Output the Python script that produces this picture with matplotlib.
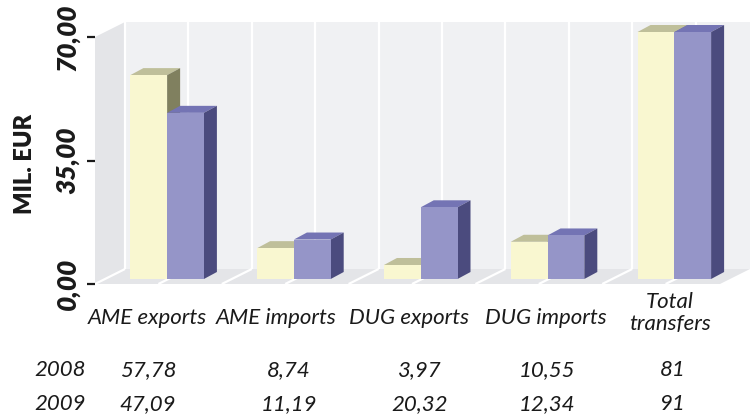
import numpy as np
import matplotlib
matplotlib.use('Agg')
import matplotlib.pyplot as plt
from matplotlib.patches import Polygon

# data
categories = ['AME exports', 'AME imports', 'DUG exports', 'DUG imports', 'Total\ntransfers']
years = ['2008', '2009']
values_2008 = [57.78, 8.74, 3.97, 10.55, 81]
values_2009 = [47.09, 11.19, 20.32, 12.34, 91]
y_ticks = [0, 35, 70]
y_tick_labels = ['0,00', '35,00', '70,00']
y_max = 70

plt.rcParams['font.family'] = ['Lato', 'DejaVu Sans']

W, H = 750, 419
px_x = 126.8            # pixels per category unit
px_y = 247 / y_max      # pixels per value unit

fig = plt.figure(figsize=(W / 100, H / 100), dpi=100)
ax = fig.add_axes([95 / W, 1 - 284 / H, 655 / W, 247 / H])
ax.set_xlim(0, 655 / px_x)
ax.set_ylim(0, y_max)

# depth of the "3d" box
DX = 30 / px_x
DY = 15 / px_y
XR = 625 / px_x   # right front edge of the floor

wall_back = '#f0f1f3'
wall_side = '#e4e5e8'
floor_col = '#e4e5e8'

ax.add_patch(Polygon([(DX, DY), (XR + DX, DY), (XR + DX, y_max + DY), (DX, y_max + DY)],
                     closed=True, fc=wall_back, ec='none', zorder=0, clip_on=False))
ax.add_patch(Polygon([(0, 0), (DX, DY), (DX, y_max + DY), (0, y_max)],
                     closed=True, fc=wall_side, ec='none', zorder=0, clip_on=False))
ax.add_patch(Polygon([(0, 0), (XR, 0), (XR + DX, DY), (DX, DY)],
                     closed=True, fc=floor_col, ec='none', zorder=0, clip_on=False))

# white grid lines on back wall and floor
for gx in np.arange(0, XR, 0.5):
    ax.plot([gx + DX, gx + DX], [DY, y_max + DY], color='white', lw=1.6, zorder=1,
            clip_on=False, solid_capstyle='butt')
    ax.plot([gx, gx + DX], [0, DY], color='white', lw=1.6, zorder=1, clip_on=False,
            solid_capstyle='butt')

# bars
pos = np.arange(len(categories)) + 0.49
bw = 0.29
fx, fy = DX / 3, DY / 3          # bars stand a third into the floor
bdx, bdy = 13 / px_x, 7 / px_y   # bar depth

styles = [('#f9f7d0', '#bfbf9a', '#80805f'),
          ('#9595c8', '#7474b4', '#4b4b7e')]

for k, vals in enumerate([values_2008, values_2009]):
    front, top, side = styles[k]
    h = np.minimum(vals, y_max)
    left = pos - bw + k * bw + fx
    ax.bar(left, h, width=bw, bottom=fy, align='edge', color=front,
           zorder=3 + 2 * k, clip_on=False, linewidth=0)
    for x0, hh in zip(left, h):
        yt = fy + hh
        ax.add_patch(Polygon([(x0, yt), (x0 + bw, yt), (x0 + bw + bdx, yt + bdy), (x0 + bdx, yt + bdy)],
                             closed=True, fc=top, ec='none', zorder=2 + 2 * k, clip_on=False))
        ax.add_patch(Polygon([(x0 + bw, fy), (x0 + bw + bdx, fy + bdy), (x0 + bw + bdx, yt + bdy), (x0 + bw, yt)],
                             closed=True, fc=side, ec='none', zorder=2 + 2 * k, clip_on=False))

# axis
for s in ax.spines.values():
    s.set_visible(False)
ax.set_xticks([])
ax.set_yticks(y_ticks, y_tick_labels, rotation=90, va='center',
              fontsize=19, fontweight='heavy', fontstyle='italic', color='#1a1a1a')
ax.tick_params(axis='y', length=6, width=1.6, pad=5, color='#1a1a1a')

fig.text(25 / W, 1 - 164 / H, 'MIL. EUR', rotation=90, ha='center', va='center',
         fontsize=17, fontweight='heavy', color='#1a1a1a')

# table under the chart
label_x = [147, 276, 409, 546, 670]
value_x = [148, 289, 420, 547, 673]
label_y = [318, 318, 318, 318, 313]
row_y = [370, 404]

def fmt(v):
    return f'{v:g}'.replace('.', ',')

for i, cat in enumerate(categories):
    fig.text(label_x[i] / W, 1 - label_y[i] / H, cat, ha='center', va='center',
             fontsize=16, fontstyle='italic', color='#1a1a1a', linespacing=1.1)

for r, vals in enumerate([values_2008, values_2009]):
    fig.text(60 / W, 1 - row_y[r] / H, years[r], ha='center', va='center',
             fontsize=16, fontstyle='italic', color='#1a1a1a')
    for i, v in enumerate(vals):
        fig.text(value_x[i] / W, 1 - row_y[r] / H, fmt(v), ha='center', va='center',
                 fontsize=16, fontstyle='italic', color='#1a1a1a')

fig.savefig('out.png', dpi=100)
